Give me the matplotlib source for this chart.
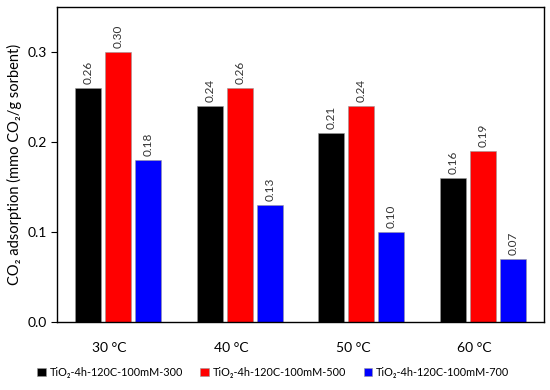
import numpy as np
import matplotlib
matplotlib.use('Agg')
import matplotlib.pyplot as plt

plt.rcParams['font.family'] = ['Lato', 'DejaVu Sans']

temps = ['30 °C', '40 °C', '50 °C', '60 °C']
series_names = ['TiO₂-4h-120C-100mM-300', 'TiO₂-4h-120C-100mM-500',
                'TiO₂-4h-120C-100mM-700']
s300 = [0.26, 0.24, 0.21, 0.16]
s500 = [0.30, 0.26, 0.24, 0.19]
s700 = [0.18, 0.13, 0.10, 0.07]
colors = ['black', 'red', 'blue']

fig = plt.figure(figsize=(5.5, 3.9), dpi=100)
ax = fig.add_axes([0.104, 0.174, 0.885, 0.808])

x = np.arange(len(temps))
width = 0.214
step = 0.247
for i, (vals, name, c) in enumerate(zip([s300, s500, s700], series_names, colors)):
    pos = x + (i - 1) * step
    ax.bar(pos, vals, width, color=c, edgecolor='#999999', linewidth=0.4, label=name)
    for p, v in zip(pos, vals):
        ax.text(p, v + 0.005, f'{v:.2f}', rotation=90, ha='center', va='bottom',
                fontsize=8.5, color='#333333')

ax.set_xlim(-0.5, 3.5)
ax.set_ylim(0, 0.35)
ax.set_yticks([0.0, 0.1, 0.2, 0.3])
ax.set_yticklabels(['0.0', '0.1', '0.2', '0.3'])
ax.set_xticks(x - 0.07)
ax.set_xticklabels(temps)
ax.tick_params(axis='x', length=0, pad=14, labelsize=10)
ax.tick_params(axis='y', length=4, labelsize=10)
ax.set_ylabel('CO₂ adsorption (mmo CO₂/g sorbent)', fontsize=10.5)
for s in ax.spines.values():
    s.set_linewidth(1.0)

fig.legend(loc='center', bbox_to_anchor=(0.497, 0.046), ncol=3, frameon=False,
           fontsize=7.8, handlelength=0.8, handleheight=0.8, handletextpad=0.35,
           columnspacing=1.6)

fig.savefig('out.png', dpi=100)
